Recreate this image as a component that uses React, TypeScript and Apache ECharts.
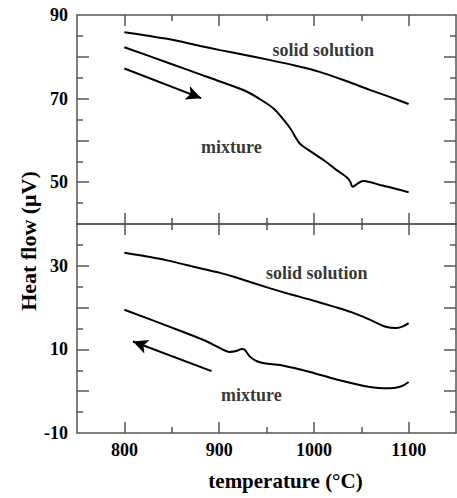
import React, { useEffect, useRef } from "react";
import * as echarts from "echarts";

// ---- data ----
const topSolidT = [800, 845, 880, 901, 930, 954, 980, 1006, 1034, 1059, 1080, 1100];
const topSolidV = [85.9, 84.3, 82.6, 81.6, 80.3, 79.2, 77.9, 76.4, 74.2, 72.1, 70.4, 68.7];

const topMixT = [800, 848, 880, 901, 929, 947, 958, 966, 975, 985, 999, 1012, 1024, 1034, 1038, 1041, 1045, 1052, 1060, 1069, 1085, 1100];
const topMixV = [82.3, 78.4, 75.8, 74.1, 71.7, 69.3, 67.5, 65.5, 62.9, 59.3, 57.0, 55.0, 52.9, 51.3, 50.3, 48.9, 49.5, 50.3, 50.0, 49.4, 48.5, 47.6];

const botSolidT = [800, 845, 880, 901, 918, 954, 975, 996, 1020, 1041, 1060, 1076, 1087, 1094, 1100];
const botSolidV = [33.1, 31.3, 29.4, 28.3, 27.2, 24.6, 23.2, 21.9, 20.3, 18.8, 17.0, 15.4, 15.1, 15.5, 16.3];

const botMixT = [800, 848, 883, 901, 911, 918, 924, 927, 932, 938, 945, 954, 968, 996, 1024, 1059, 1080, 1090, 1096, 1100];
const botMixV = [19.5, 15.4, 12.3, 10.3, 9.4, 9.6, 10.1, 9.9, 8.4, 7.4, 6.8, 6.5, 6.1, 4.6, 2.8, 1.0, 0.7, 1.0, 1.6, 2.2];

// arrows: [start, end] in data coordinates
const topArrow = [[800, 77.2], [881, 70.1]];
const botArrow = [[892, 4.8], [809, 11.9]];

// annotation texts (text centre in data coordinates)
const topLabels = [
  { name: "solid solution", value: [1010, 81.6] },
  { name: "mixture", value: [913, 58.5] },
];
const botLabels = [
  { name: "solid solution", value: [1003, 28.3] },
  { name: "mixture", value: [934, -1.0] },
];

// axes, ticks and tick labels
const X_MIN = 750;
const X_MAX = 1150;
const TOP_Y = [40, 90];
const BOT_Y = [-10, 40];
const xMajor = [800, 900, 1000, 1100];
const xMinor = [850, 950, 1050];
const topYMajor = [50, 60, 70, 80];
const topYMinor = [45, 55, 65, 75, 85];
const botYMajor = [0, 10, 20, 30];
const botYMinor = [-5, 5, 15, 25, 35];
const topYLabels = [90, 70, 50];
const botYLabels = [30, 10, -10];

const X_TITLE = "temperature (°C)";
const Y_TITLE = "Heat flow (μV)";

const zip = (t: number[], v: number[]) => t.map((x, i) => [x, v[i]]);

const FONT = "Liberation Serif";
const AXIS_COLOR = "#555";
const LINE_COLOR = "#000";
const GRID_LEFT = 77;
const GRID_RIGHT = 1;
const GRID_W = 457 - GRID_LEFT - GRID_RIGHT;
const GRID_H = 209;
const X_LONG = 11;
const X_SHORT = 6;
const Y_LONG = 12;
const Y_SHORT = 6;

function xAxis(gridIndex: number, position: string, labels: boolean) {
  const o: any = {
    type: "value",
    gridIndex,
    position,
    min: X_MIN,
    max: X_MAX,
    axisLine: { show: true, onZero: false, lineStyle: { color: AXIS_COLOR, width: 1.5 } },
    axisTick: { show: false },
    axisLabel: labels
      ? {
          show: true,
          customValues: xMajor,
          margin: 8,
          color: "#000",
          fontFamily: FONT,
          fontWeight: "bold",
          fontSize: 18,
          formatter: (v: number) => String(v),
        }
      : { show: false },
    splitLine: { show: false },
  };
  if (labels) {
    o.name = X_TITLE;
    o.nameLocation = "middle";
    o.nameGap = 37;
    o.nameTextStyle = { color: "#000", fontFamily: FONT, fontWeight: "bold", fontSize: 21, padding: [0, 0, 0, 38] };
  }
  return o;
}

function yAxis(gridIndex: number, position: string, range: number[], labels: number[] | null, title: boolean) {
  const o: any = {
    type: "value",
    gridIndex,
    position,
    min: range[0],
    max: range[1],
    interval: 10,
    axisLine: { show: true, onZero: false, lineStyle: { color: AXIS_COLOR, width: 1.5 } },
    axisTick: { show: false },
    axisLabel: labels
      ? {
          show: true,
          margin: 9,
          color: "#000",
          fontFamily: FONT,
          fontWeight: "bold",
          fontSize: 18,
          formatter: (v: number) => (labels.indexOf(v) >= 0 ? String(v) : ""),
        }
      : { show: false },
    splitLine: { show: false },
  };
  if (title) {
    o.name = Y_TITLE;
    o.nameLocation = "middle";
    o.nameGap = 36;
    o.nameTextStyle = { color: "#000", fontFamily: FONT, fontWeight: "bold", fontSize: 22, padding: [0, 243, 0, 0] };
  }
  return o;
}

// inward ticks on all four sides of a panel, drawn as mark lines in data coordinates
function ticks(xi: number, yi: number, yr: number[], yMajor: number[], yMinor: number[]) {
  const xPerPx = (X_MAX - X_MIN) / GRID_W;
  const yPerPx = (yr[1] - yr[0]) / GRID_H;
  const segs: any[] = [];
  const xt = (v: number, len: number) => {
    const d = len * yPerPx;
    segs.push([{ coord: [v, yr[1]] }, { coord: [v, yr[1] - d] }]);
    segs.push([{ coord: [v, yr[0]] }, { coord: [v, yr[0] + d] }]);
  };
  const yt = (v: number, len: number) => {
    const d = len * xPerPx;
    segs.push([{ coord: [X_MIN, v] }, { coord: [X_MIN + d, v] }]);
    segs.push([{ coord: [X_MAX, v] }, { coord: [X_MAX - d, v] }]);
  };
  xMajor.forEach((v) => xt(v, X_LONG));
  xMinor.forEach((v) => xt(v, X_SHORT));
  yMajor.forEach((v) => yt(v, Y_LONG));
  yMinor.forEach((v) => yt(v, Y_SHORT));
  return {
    type: "line",
    xAxisIndex: xi,
    yAxisIndex: yi,
    data: [],
    silent: true,
    markLine: {
      silent: true,
      symbol: ["none", "none"],
      label: { show: false },
      emphasis: { disabled: true },
      lineStyle: { color: AXIS_COLOR, width: 1.5, type: "solid" },
      data: segs,
    },
  };
}

function curve(data: number[][], xi: number, yi: number) {
  return {
    type: "line",
    xAxisIndex: xi,
    yAxisIndex: yi,
    data,
    smooth: 0.3,
    showSymbol: false,
    lineStyle: { color: LINE_COLOR, width: 2 },
  };
}

function arrow(a: number[][], xi: number, yi: number) {
  return {
    type: "line",
    xAxisIndex: xi,
    yAxisIndex: yi,
    data: [],
    markLine: {
      symbol: ["none", "arrow"],
      symbolSize: [11, 15],
      label: { show: false },
      lineStyle: { color: LINE_COLOR, width: 2, type: "solid" },
      data: [[{ coord: a[0] }, { coord: a[1] }]],
    },
  };
}

function texts(items: any[], xi: number, yi: number) {
  return {
    type: "scatter",
    xAxisIndex: xi,
    yAxisIndex: yi,
    symbolSize: 0,
    data: items,
    label: {
      show: true,
      position: "inside",
      formatter: "{b}",
      color: "#000",
      fontFamily: FONT,
      fontWeight: "bold",
      fontSize: 18,
    },
  };
}

export default function App() {
  const ref = useRef<HTMLDivElement>(null);
  useEffect(() => {
    if (!ref.current) return;
    const chart = echarts.init(ref.current, null, { renderer: "svg" });
    chart.setOption({
      animation: false,
      grid: [
        { left: GRID_LEFT, right: GRID_RIGHT, top: 15, height: GRID_H },
        { left: GRID_LEFT, right: GRID_RIGHT, top: 15 + GRID_H, height: GRID_H },
      ],
      xAxis: [
        xAxis(0, "top", false),
        xAxis(0, "bottom", false),
        xAxis(1, "top", false),
        xAxis(1, "bottom", true),
      ],
      yAxis: [
        yAxis(0, "left", TOP_Y, topYLabels, true),
        yAxis(0, "right", TOP_Y, null, false),
        yAxis(1, "left", BOT_Y, botYLabels, false),
        yAxis(1, "right", BOT_Y, null, false),
      ],
      series: [
        ticks(0, 0, TOP_Y, topYMajor, topYMinor),
        curve(zip(topSolidT, topSolidV), 0, 0),
        curve(zip(topMixT, topMixV), 0, 0),
        arrow(topArrow, 0, 0),
        texts(topLabels, 0, 0),
        ticks(3, 2, BOT_Y, botYMajor, botYMinor),
        curve(zip(botSolidT, botSolidV), 3, 2),
        curve(zip(botMixT, botMixV), 3, 2),
        arrow(botArrow, 3, 2),
        texts(botLabels, 3, 2),
      ],
    });
    return () => chart.dispose();
  }, []);
  return (
    <div
      ref={ref}
      style={{ position: "fixed", left: 0, top: 0, width: 457, height: 498, background: "#fff" }}
    />
  );
}
